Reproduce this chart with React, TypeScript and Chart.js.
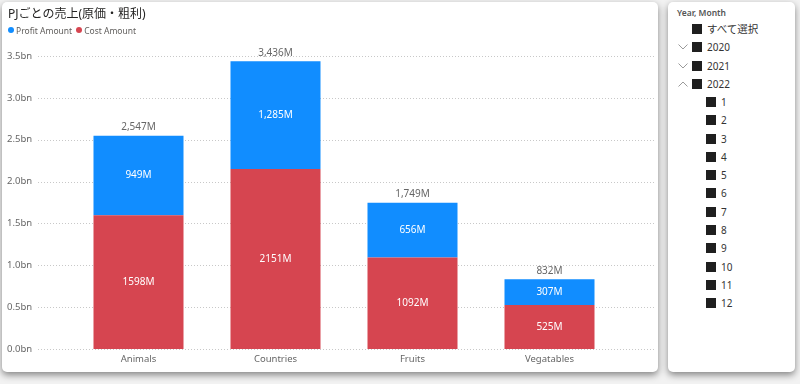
import { useEffect, useRef } from "react";
import { Chart, registerables } from "chart.js";
Chart.register(...registerables);

const categories = ["Animals", "Countries", "Fruits", "Vegatables"];
const profitAmount = [949, 1285, 656, 307];
const costAmount = [1598, 2151, 1092, 525];
const totalAmount = [2547, 3436, 1749, 832];
const seriesNames = ["Profit Amount", "Cost Amount"];
const titleText = "PJごとの売上(原価・粗利)";
const slicerTitle = "Year, Month";
const slicerAll = "すべて選択";
const slicerYears = ["2020", "2021", "2022"];
const slicerMonths = ["1", "2", "3", "4", "5", "6", "7", "8", "9", "10", "11", "12"];

const BLUE = "#118DFF";
const RED = "#D64550";
const FONT = "'Noto Sans', 'Noto Sans CJK JP', sans-serif";

const gridPlugin = {
  id: "dottedGrid",
  beforeDatasetsDraw(chart: any) {
    const { ctx } = chart;
    const y = chart.scales.y;
    ctx.save();
    ctx.strokeStyle = "#c8c8c8";
    ctx.lineWidth = 1;
    ctx.setLineDash([1, 2]);
    y.ticks.forEach((t: any) => {
      const py = Math.round(y.getPixelForValue(t.value)) + 0.5;
      ctx.beginPath();
      ctx.moveTo(38, py);
      ctx.lineTo(655, py);
      ctx.stroke();
    });
    ctx.restore();
  },
};

const labelPlugin = {
  id: "barLabels",
  afterDatasetsDraw(chart: any) {
    const { ctx } = chart;
    ctx.save();
    ctx.textAlign = "center";
    ctx.textBaseline = "middle";
    ctx.font = `10px ${FONT}`;
    chart.data.datasets.forEach((ds: any, di: number) => {
      const meta = chart.getDatasetMeta(di);
      meta.data.forEach((bar: any, i: number) => {
        const p = bar.getProps(["x", "y", "base"], true);
        ctx.fillStyle = "#ffffff";
        const v = ds.data[i];
        const txt = ds.label === seriesNames[0] ? `${v.toLocaleString("en-US")}M` : `${v}M`;
        ctx.fillText(txt, p.x, (p.y + p.base) / 2);
      });
    });
    const topMeta = chart.getDatasetMeta(1);
    topMeta.data.forEach((bar: any, i: number) => {
      const p = bar.getProps(["x", "y"], true);
      ctx.fillStyle = "#666666";
      ctx.fillText(`${totalAmount[i].toLocaleString("en-US")}M`, p.x, p.y - 8.5);
    });
    ctx.restore();
  },
};

function ChartCanvas() {
  const ref = useRef<HTMLCanvasElement>(null);
  useEffect(() => {
    if (!ref.current) return;
    const chart = new Chart(ref.current, {
      type: "bar",
      data: {
        labels: categories,
        datasets: [
          { label: seriesNames[1], data: costAmount, backgroundColor: RED, borderWidth: 0, barPercentage: 0.657, categoryPercentage: 1 },
          { label: seriesNames[0], data: profitAmount, backgroundColor: BLUE, borderWidth: 0, barPercentage: 0.657, categoryPercentage: 1 },
        ],
      },
      options: {
        responsive: false,
        animation: false,
        devicePixelRatio: 1,
        layout: { padding: { left: 7, right: 42, top: 56, bottom: 0 } },
        plugins: { legend: { display: false }, tooltip: { enabled: false }, title: { display: false } },
        scales: {
          x: {
            stacked: true,
            grid: { display: false, drawTicks: false },
            border: { display: false },
            ticks: { color: "#666666", font: { size: 9.5, family: FONT }, padding: 5 },
            afterFit: (s: any) => { s.height = 23; },
          },
          y: {
            stacked: true,
            min: 0,
            max: 3500,
            grid: { display: false, drawTicks: false },
            border: { display: false },
            ticks: {
              stepSize: 500,
              crossAlign: "far",
              color: "#666666",
              font: { size: 9.5, family: FONT },
              callback: (v: any) => (Number(v) / 1000).toFixed(1) + "bn",
            },
            afterFit: (s: any) => { s.width = 63; },
          },
        },
      },
      plugins: [gridPlugin, labelPlugin],
    });
    return () => chart.destroy();
  }, []);
  return <canvas ref={ref} width={660} height={372} style={{ position: "absolute", left: 0, top: 0 }} />;
}

function Chevron({ up, top }: { up: boolean; top: number }) {
  return (
    <svg width={10} height={6} style={{ position: "absolute", left: 678, top: top - 3 }}>
      <polyline points={up ? "0.5,5.5 5,1 9.5,5.5" : "0.5,0.5 5,5 9.5,0.5"} fill="none" stroke="#9a9a9a" strokeWidth={1} />
    </svg>
  );
}

export default function App() {
  const items: { label: string; level: number; chevron?: "up" | "down" }[] = [
    { label: slicerAll, level: 0 },
    ...slicerYears.map((y, i) => ({ label: y, level: 0, chevron: (i === slicerYears.length - 1 ? "up" : "down") as "up" | "down" })),
    ...slicerMonths.map((m) => ({ label: m, level: 1 })),
  ];
  return (
    <div style={{ position: "absolute", left: 0, top: 0, width: 800, height: 384, overflow: "hidden", background: "#f2f2f2", fontFamily: FONT }}>
      <div style={{ position: "absolute", left: 2, top: 2, width: 656, height: 370, background: "#fff", borderRadius: 5, boxShadow: "0 3px 7px rgba(0,0,0,0.45)" }} />
      <div style={{ position: "absolute", left: 668, top: 2, width: 127, height: 370, background: "#fff", borderRadius: 5, boxShadow: "0 3px 7px rgba(0,0,0,0.45)" }} />
      <ChartCanvas />
      <div style={{ position: "absolute", left: 8, top: 5, fontSize: 12, lineHeight: "18px", color: "#252423", whiteSpace: "nowrap" }}>{titleText}</div>
      <div style={{ position: "absolute", left: 8, top: 24, height: 12, display: "flex", alignItems: "center", fontSize: 8.5, color: "#605E5C", whiteSpace: "nowrap" }}>
        <span style={{ width: 6, height: 6, borderRadius: 3, background: BLUE, display: "inline-block", marginRight: 2 }} />
        <span style={{ marginRight: 4 }}>{seriesNames[0]}</span>
        <span style={{ width: 6, height: 6, borderRadius: 3, background: RED, display: "inline-block", marginRight: 2 }} />
        <span>{seriesNames[1]}</span>
      </div>
      <div style={{ position: "absolute", left: 677, top: 7, fontSize: 8.5, lineHeight: "12px", fontWeight: 600, color: "#555", whiteSpace: "nowrap" }}>{slicerTitle}</div>
      {items.map((it, i) => {
        const cy = 29 + i * 18.27;
        const boxLeft = it.level === 0 ? 692 : 706;
        return (
          <div key={i}>
            {it.chevron && <Chevron up={it.chevron === "up"} top={cy} />}
            <div style={{ position: "absolute", left: boxLeft, top: cy - 5, width: 10, height: 10, background: "#1f1f1f" }} />
            <div style={{ position: "absolute", left: boxLeft + 15, top: cy - 7, lineHeight: "14px", fontSize: i === 0 ? 10.5 : 10, color: "#333333", whiteSpace: "nowrap" }}>{it.label}</div>
          </div>
        );
      })}
    </div>
  );
}
